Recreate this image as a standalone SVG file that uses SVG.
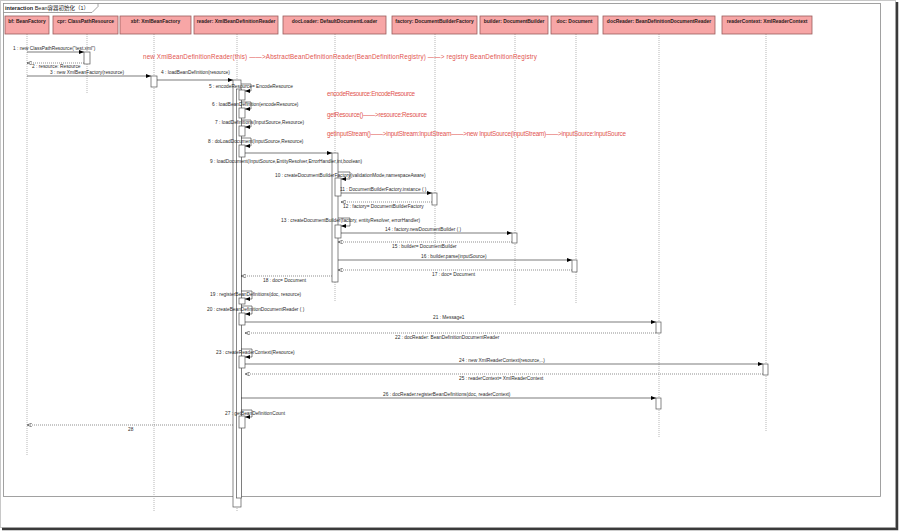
<svg xmlns="http://www.w3.org/2000/svg" width="900" height="532" viewBox="0 0 900 532">
<style>
.m{font-family:"Liberation Sans",Arial,sans-serif;font-size:4.8px;fill:#2a2a2a}
.h{font-family:"Liberation Sans",Arial,sans-serif;font-size:4.95px;font-weight:bold;fill:#2a1a1a;text-anchor:middle}
.r{font-family:"Liberation Sans",Arial,sans-serif;font-size:6.3px;fill:#e2544f}
.hb{fill:#f7a6a6;stroke:#9a5c5c;stroke-width:0.8}
.ll{stroke:#999;stroke-width:0.7;stroke-dasharray:1,1;fill:none}
.act{fill:#fff;stroke:#555;stroke-width:0.7}
.call{stroke:#222;stroke-width:0.6;fill:none;marker-end:url(#ah)}
.ret{stroke:#444;stroke-width:0.6;stroke-dasharray:1,1;fill:none;marker-end:url(#ao)}
.self{stroke:#333;stroke-width:0.6;fill:none;marker-end:url(#ah)}
</style>
<defs>
<marker id="ah" markerWidth="5" markerHeight="4" refX="5" refY="2" orient="auto" markerUnits="userSpaceOnUse"><path d="M0,0 L5,2 L0,4 z" fill="#000"/></marker>
<marker id="ao" markerWidth="5" markerHeight="4" refX="5" refY="2" orient="auto" markerUnits="userSpaceOnUse"><path d="M0,0 L5,2 L0,4" fill="none" stroke="#333" stroke-width="0.6"/></marker>
</defs>
<rect x="0" y="0" width="900" height="532" fill="#fff"/>
<rect x="0.5" y="0.5" width="895" height="527" fill="none" stroke="#c8c8c8" stroke-width="1"/>
<path d="M897,2 V529 H2" fill="none" stroke="#3a3a3a" stroke-width="2.5"/>
<g id="frame">
<rect x="3.5" y="3.5" width="877" height="493" fill="#fff" stroke="#8a8a8a" stroke-width="0.8"/>
<path d="M3.5,12.5 H92 L98,6.5 V3.5" fill="none" stroke="#8a8a8a" stroke-width="0.8"/>
<text x="5" y="10" style="font-family:'Liberation Sans','Noto Sans CJK SC',sans-serif;font-size:5.5px;fill:#222"><tspan font-weight="bold">interaction</tspan> Bean容器初始化（1）</text>
</g>
<g id="lifelines">
<line class="ll" x1="27" y1="34" x2="27" y2="455"/>
<line class="ll" x1="87" y1="34" x2="87" y2="93"/>
<line class="ll" x1="154" y1="34" x2="154" y2="512"/>
<line class="ll" x1="237" y1="34" x2="237" y2="512"/>
<line class="ll" x1="335" y1="34" x2="335" y2="302"/>
<line class="ll" x1="435" y1="34" x2="435" y2="246"/>
<line class="ll" x1="515" y1="34" x2="515" y2="305"/>
<line class="ll" x1="576" y1="34" x2="576" y2="303"/>
<line class="ll" x1="659" y1="34" x2="659" y2="438"/>
<line class="ll" x1="766" y1="34" x2="766" y2="432"/>
</g>
<g id="bf"><rect class="hb" x="5" y="16" width="44" height="18"/><text class="h" x="27" y="23">bf: BeanFactory</text></g>
<g id="cpr"><rect class="hb" x="53" y="16" width="65" height="18"/><text class="h" x="85.5" y="23">cpr: ClassPathResource</text></g>
<g id="xbf"><rect class="hb" x="120" y="16" width="71" height="18"/><text class="h" x="155.5" y="23">xbf: XmlBeanFactory</text></g>
<g id="reader"><rect class="hb" x="194" y="16" width="84" height="18"/><text class="h" x="236" y="23">reader: XmlBeanDefinitionReader</text></g>
<g id="docLoader"><rect class="hb" x="283" y="16" width="103" height="18"/><text class="h" x="334.5" y="23">docLoader: DefaultDocumentLoader</text></g>
<g id="factory"><rect class="hb" x="392" y="16" width="85" height="18"/><text class="h" x="434.5" y="23">factory: DocumentBuilderFactory</text></g>
<g id="builder"><rect class="hb" x="480" y="16" width="68" height="18"/><text class="h" x="514" y="23">builder: DocumentBuilder</text></g>
<g id="doc"><rect class="hb" x="551" y="16" width="47" height="18"/><text class="h" x="574.5" y="23">doc: Document</text></g>
<g id="docReader"><rect class="hb" x="603" y="16" width="112" height="18"/><text class="h" x="659" y="23">docReader: BeanDefinitionDocumentReader</text></g>
<g id="readerContext"><rect class="hb" x="722" y="16" width="90" height="18"/><text class="h" x="767" y="23">readerContext: XmlReaderContext</text></g>
<g id="activations">
<rect class="act" x="84" y="52" width="6" height="12"/>
<rect class="act" x="151" y="76" width="6" height="11"/>
<rect class="act" x="233" y="80" width="8" height="427"/>
<rect class="act" x="236.5" y="89" width="5" height="409"/>
<rect class="act" x="239" y="90" width="6" height="10"/>
<rect class="act" x="239" y="108" width="6" height="10"/>
<rect class="act" x="239" y="126" width="6" height="10"/>
<rect class="act" x="239" y="145" width="6" height="12"/>
<rect class="act" x="332" y="153" width="6" height="129"/>
<rect class="act" x="335" y="178" width="6" height="18"/>
<rect class="act" x="432" y="193" width="5" height="12"/>
<rect class="act" x="335" y="225" width="6" height="13"/>
<rect class="act" x="512" y="233" width="5" height="10"/>
<rect class="act" x="572" y="260" width="5" height="12"/>
<rect class="act" x="239" y="298" width="6" height="6"/>
<rect class="act" x="239" y="313" width="6" height="12"/>
<rect class="act" x="656" y="322" width="5" height="11"/>
<rect class="act" x="239" y="356" width="6" height="12"/>
<rect class="act" x="763" y="364" width="5" height="11"/>
<rect class="act" x="656" y="398" width="5" height="11"/>
<rect class="act" x="239" y="416" width="6" height="12"/>
</g>
<g id="connectors">
<line class="call" x1="27" y1="52" x2="84" y2="52"/>
<line class="ret" x1="84" y1="63" x2="27" y2="63"/>
<line class="call" x1="27" y1="76" x2="151" y2="76"/>
<line class="call" x1="157" y1="80" x2="233" y2="80"/>
<path class="self" d="M241,84 H251 V91 H245"/>
<path class="self" d="M241,102 H251 V109 H245"/>
<path class="self" d="M241,120 H251 V127 H245"/>
<path class="self" d="M241,138 H251 V146 H245"/>
<line class="call" x1="245" y1="153" x2="332" y2="153"/>
<path class="self" d="M338,172 H350 V179 H341"/>
<line class="call" x1="341" y1="193" x2="432" y2="193"/>
<line class="ret" x1="432" y1="202" x2="341" y2="202"/>
<path class="self" d="M338,218 H350 V226 H341"/>
<line class="call" x1="341" y1="233" x2="512" y2="233"/>
<line class="ret" x1="512" y1="242" x2="338" y2="242"/>
<line class="call" x1="338" y1="260" x2="572" y2="260"/>
<line class="ret" x1="572" y1="270" x2="338" y2="270"/>
<line class="ret" x1="332" y1="276" x2="241" y2="276"/>
<path class="self" d="M241,291 H252 V299 H245"/>
<path class="self" d="M241,306 H252 V314 H245"/>
<line class="call" x1="245" y1="322" x2="656" y2="322"/>
<line class="ret" x1="656" y1="333" x2="245" y2="333"/>
<path class="self" d="M241,349 H252 V357 H245"/>
<line class="call" x1="245" y1="364" x2="763" y2="364"/>
<line class="ret" x1="763" y1="374" x2="245" y2="374"/>
<line class="call" x1="241" y1="398" x2="656" y2="398"/>
<path class="self" d="M241,410 H252 V417 H245"/>
<line class="ret" x1="233" y1="425" x2="27" y2="425"/>
</g>
<g id="labels">
<text class="m" x="13" y="50">1 : new ClassPathResource("test.xml")</text>
<text class="m" x="32" y="68">2 : resource: Resource</text>
<text class="m" x="50" y="74">3 : new XmlBeanFactory(resource)</text>
<text class="m" x="161" y="74">4 : loadBeanDefinition(resource)</text>
<text class="m" x="209" y="88">5 : encodeResource= EncodeResource</text>
<text class="m" x="212" y="106">6 : loadBeanDefinition(encodeResource)</text>
<text class="m" x="215" y="124">7 : loadDefinitions(InputSource,Resource)</text>
<text class="m" x="208" y="143">8 : doLoadDocument(InputSource,Resource)</text>
<text class="m" x="210" y="163">9 : loadDocument(InputSource,EntityResolver,ErrorHandler,int,boolean)</text>
<text class="m" x="275" y="177">10 : createDocumentBuilderFactory(validationMode,namespaceAware)</text>
<text class="m" x="340" y="191">11 : DocumentBuilderFactory.instance ( )</text>
<text class="m" x="343" y="208">12 : factory= DocumentBuilderFactory</text>
<text class="m" x="281" y="222">13 : createDocumentBuilder(factory, entityResolver, errorHandler)</text>
<text class="m" x="385" y="231">14 : factory.newDocumentBuilder ( )</text>
<text class="m" x="392" y="248">15 : builder= DocumentBuilder</text>
<text class="m" x="421" y="258">16 : builder.parse(inputSource)</text>
<text class="m" x="432" y="276">17 : doc= Document</text>
<text class="m" x="263" y="282">18 : doc= Document</text>
<text class="m" x="210" y="296">19 : registerBeanDefinitions(doc, resource)</text>
<text class="m" x="207" y="311">20 : createBeanDefinitionDocumentReader ( )</text>
<text class="m" x="433" y="319">21 : Message1</text>
<text class="m" x="395" y="339">22 : docReader: BeanDefinitionDocumentReader</text>
<text class="m" x="216" y="354">23 : createReaderContext(Resource)</text>
<text class="m" x="459" y="362">24 : new XmlReaderContext(resource,..)</text>
<text class="m" x="459" y="380">25 : readerContext= XmlReaderContext</text>
<text class="m" x="383" y="396">26 : docReader.registerBeanDefinitions(doc, readerContext)</text>
<text class="m" x="225" y="415">27 : getBeanDefinitionCount</text>
<text class="m" x="128" y="431">28</text>
</g>
<g id="notes">
<text class="r" x="143" y="59" textLength="394">new XmlBeanDefinitionReader(this) ——&gt;AbstractBeanDefinitionReader(BeanDefinitionRegistry) ——&gt; registry BeanDefinitionRegistry</text>
<text class="r" x="327" y="96" textLength="88">encodeResource:EncodeResource</text>
<text class="r" x="327" y="117" textLength="100">getResource()——&gt;resource:Resource</text>
<text class="r" x="327" y="136" textLength="299">getInputStream()——&gt;inputStream:InputStream——&gt;new InputSource(inputStream)——&gt;inputSource:InputSource</text>
</g>
</svg>
